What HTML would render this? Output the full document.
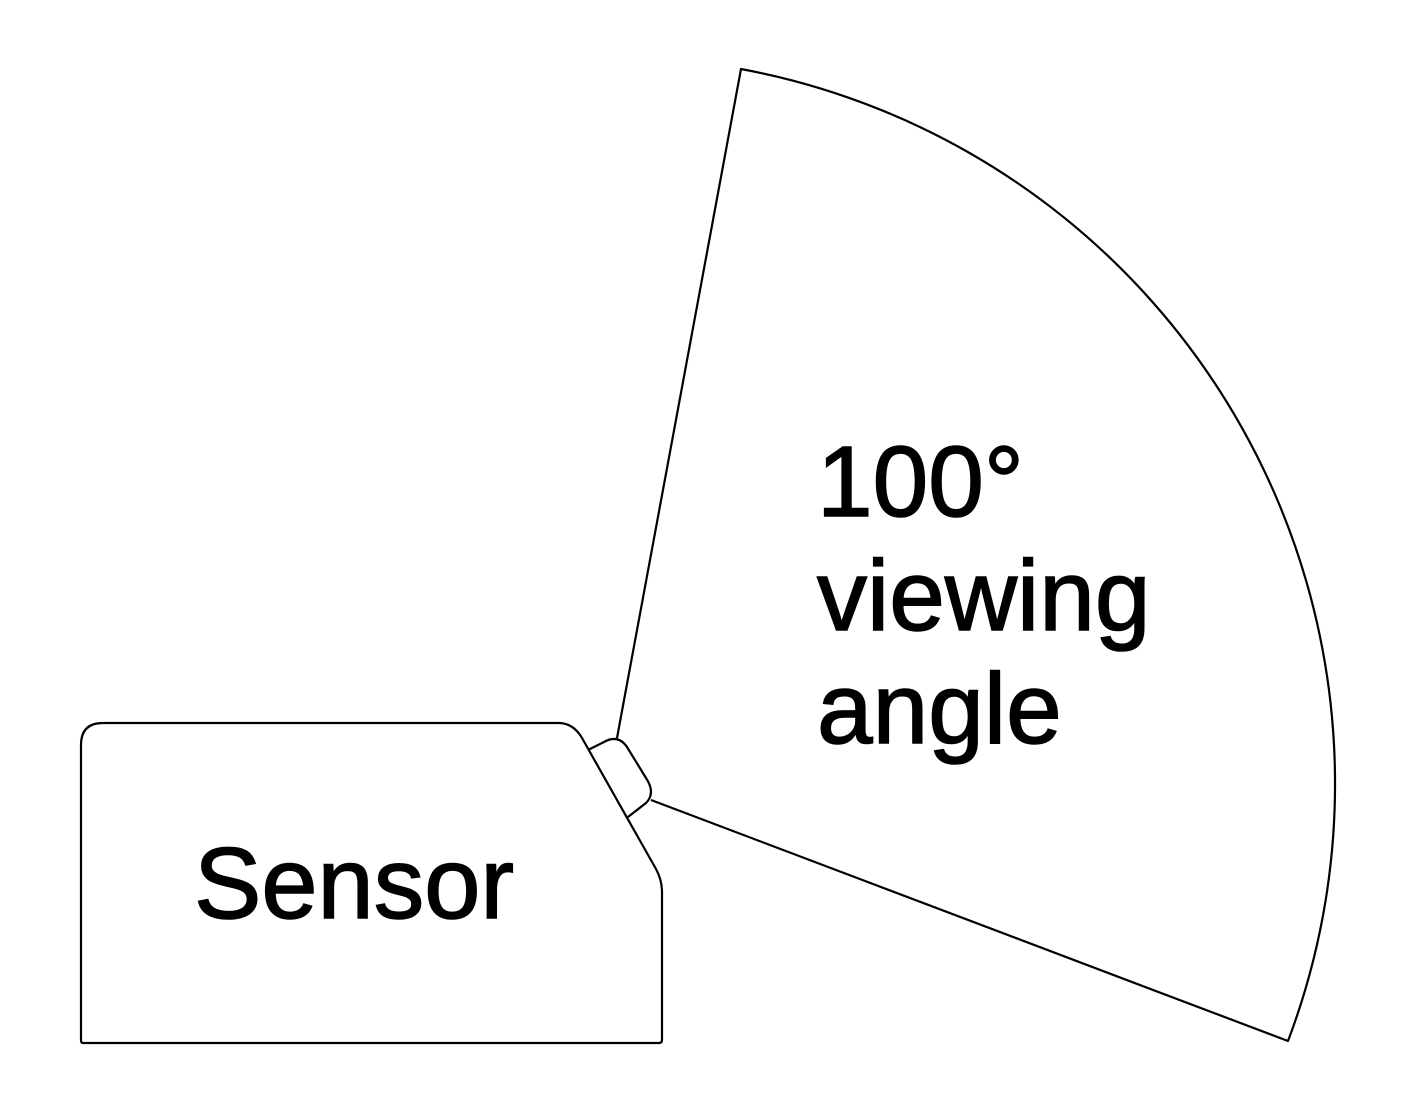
<!DOCTYPE html>
<html><head><style>html,body{margin:0;padding:0;background:#fff}svg{display:block}</style></head>
<body>
<svg width="1412" height="1118" viewBox="0 0 1412 1118" xmlns="http://www.w3.org/2000/svg">
<g fill="none" stroke="#000" stroke-width="2.2" stroke-linejoin="round">
<path d="M617,738 L741,69 A727,727 0 0 1 1288,1041 L651,800"/>
<path d="M588,750 L604,742 Q618,734 627,747 L646,778 Q656,793 646,803 L628,817"/>
<path d="M83,1043 Q81,1043 81,1040 L81,745 Q81,723 103,723 L560,723 Q574,724 582,738 L656,869 Q662,880 662,892 L662,1040 Q662,1043 659,1043 Z"/>
</g>
<g font-family="Liberation Sans, Arial, sans-serif" font-size="100" fill="#000" stroke="#000" stroke-width="1.5">
<text x="817" y="516">100°</text>
<text x="817" y="630">viewing</text>
<text x="817" y="743">angle</text>
<text x="194" y="918" font-size="101">Sensor</text>
</g>
</svg>
</body></html>
